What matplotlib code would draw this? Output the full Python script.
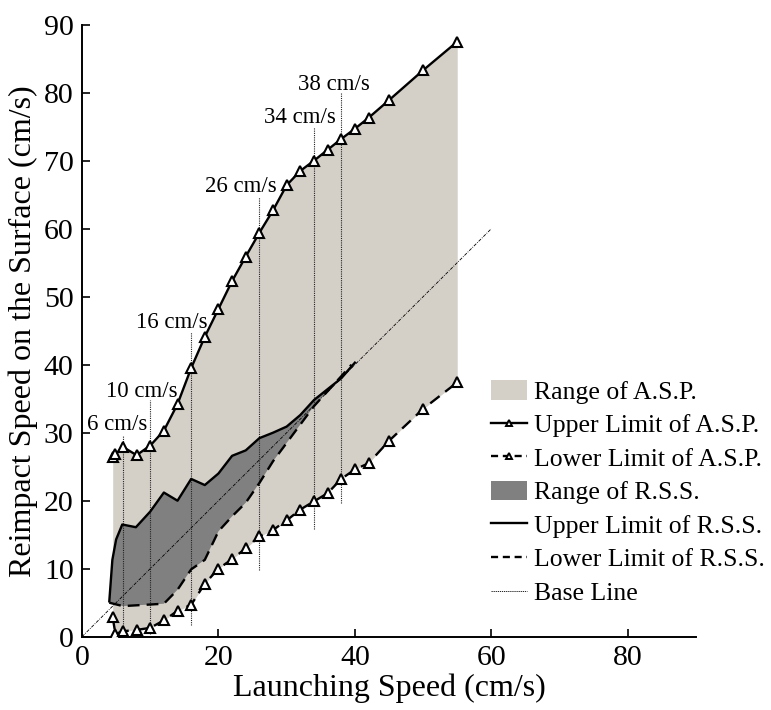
import matplotlib
matplotlib.use("Agg")
import matplotlib.pyplot as plt
from matplotlib.patches import Patch
from matplotlib.lines import Line2D
import numpy as np

plt.rcParams['font.family'] = ['Liberation Serif', 'DejaVu Serif']
plt.rcParams['mathtext.fontset'] = 'stix'

# ---------------- data ----------------
asp_x = [4.5, 4.9, 6, 8, 10, 12, 14, 16, 18, 20, 22, 24, 26, 28, 30, 32, 34, 36, 38, 40, 42, 45, 50, 55]
asp_upper = [26.4, 26.8, 27.9, 26.7, 28.1, 30.3, 34.2, 39.5, 44.1, 48.2, 52.3, 55.9, 59.4, 62.7,
             66.4, 68.5, 70.0, 71.6, 73.2, 74.7, 76.3, 78.9, 83.3, 87.5]
asp_lower = [2.85, 0.4, 0.8, 1.0, 1.3, 2.4, 3.8, 4.7, 7.8, 10.0, 11.4, 13.0, 14.75, 15.7,
             17.1, 18.7, 19.9, 21.1, 23.2, 24.6, 25.5, 28.8, 33.5, 37.4]

rss_up_x = [4.0, 4.45, 5.0, 5.9, 7.9, 10, 12, 14, 16, 18, 20, 22, 24, 26, 28, 30, 32, 34, 36, 38, 40]
rss_upper = [5.2, 11.3, 14.3, 16.5, 16.1, 18.4, 21.2, 20.0, 23.2, 22.3, 24.0, 26.6, 27.4, 29.2,
             30.0, 30.9, 32.6, 34.8, 36.4, 38.0, 40.3]
rss_lo_x = [4.0, 6, 12, 14, 16, 18, 20, 22, 24, 26, 28, 30, 32, 34, 36, 38, 39.5]
rss_lower = [5.0, 4.5, 4.85, 6.9, 9.9, 11.3, 15.5, 17.7, 19.7, 22.6, 25.8, 28.5, 31.2, 33.9,
             36.1, 38.3, 40.0]

base_x = [0, 60]
base_y = [0, 60]

mark_x = [6, 10, 16, 26, 34, 38]
mark_top = [29.6, 34.8, 44.8, 64.7, 75.0, 80.0]
mark_bottom = [0.3, 0.4, 1.7, 9.8, 15.8, 19.7]
mark_labels = ['6 cm/s', '10 cm/s', '16 cm/s', '26 cm/s', '34 cm/s', '38 cm/s']
label_x = [5.1, 8.7, 13.1, 23.3, 32.0, 37.0]
label_y = [30.4, 35.3, 45.4, 65.4, 75.5, 80.4]

x_ticks = [0, 20, 40, 60, 80]
y_ticks = [0, 10, 20, 30, 40, 50, 60, 70, 80, 90]

light = '#d4d0c8'
dark = '#808080'

# ---------------- figure ----------------
fig = plt.figure(figsize=(7.71, 7.10), dpi=100)
ax = fig.add_axes([82/771, 1 - 636.7/710, (696-82)/771, (636.7-24.7)/710])

ax.fill_between(asp_x, asp_lower, asp_upper, color=light, lw=0, zorder=1)
poly_x = list(rss_up_x) + list(rss_lo_x[::-1])
poly_y = list(rss_upper) + list(rss_lower[::-1])
ax.fill(poly_x, poly_y, color=dark, lw=0, zorder=2)

for vx, vt, vb in zip(mark_x, mark_top, mark_bottom):
    ax.plot([vx, vx], [vb, vt], color='#222222', lw=0.8, ls=(0, (1, 1)), zorder=3)
for lx, ly, lab in zip(label_x, label_y, mark_labels):
    ax.text(lx, ly, lab, ha='center', va='baseline', fontsize=16.5, zorder=6)

base_ls = (0, (4, 1.5, 1, 1.5))
base, = ax.plot(base_x, base_y, color='black', lw=0.6, ls=base_ls, zorder=4)

up_asp, = ax.plot(asp_x, asp_upper, color='black', lw=1.7, marker='^', ms=6.5,
                  mfc='white', mec='black', mew=1.5, zorder=5)
lo_asp, = ax.plot(asp_x, asp_lower, color='black', lw=1.7, ls=(0, (5, 3)), marker='^', ms=6.5,
                  mfc='white', mec='black', mew=1.5, zorder=5)
up_rss, = ax.plot(rss_up_x, rss_upper, color='black', lw=1.7, zorder=5)
lo_rss, = ax.plot(rss_lo_x, rss_lower, color='black', lw=1.7, ls=(0, (5, 3)), zorder=5)

ax.set_xlim(0, 90)
ax.set_ylim(0, 90)
ax.set_xticks(x_ticks)
ax.set_yticks(y_ticks)
ax.spines['top'].set_visible(False)
ax.spines['right'].set_visible(False)
for s in ['left', 'bottom']:
    ax.spines[s].set_linewidth(1.4)
ax.tick_params(direction='in', length=6, width=1.2, labelsize=21.5, pad=6)
ax.set_xlabel('Launching Speed (cm/s)', fontsize=23, labelpad=2)
ax.set_ylabel('Reimpact Speed on the Surface (cm/s)', fontsize=23, labelpad=4)

# legend
h_range_asp = Patch(facecolor=light, edgecolor='none')
h_range_rss = Patch(facecolor=dark, edgecolor='none')
h_up_asp = Line2D([], [], color='black', lw=1.7, marker='^', ms=5, mfc='white', mec='black', mew=1.4)
h_lo_asp = Line2D([], [], color='black', lw=1.7, ls=(0, (3, 2)), marker='^', ms=5, mfc='white', mec='black', mew=1.4)
h_up_rss = Line2D([], [], color='black', lw=1.7)
h_lo_rss = Line2D([], [], color='black', lw=1.7, ls=(0, (3, 2)))
h_base = Line2D([], [], color='black', lw=0.6, ls=(0, (1.5, 1)))

handles = [h_range_asp, h_up_asp, h_lo_asp, h_range_rss, h_up_rss, h_lo_rss, h_base]
labels = ['Range of A.S.P.', 'Upper Limit of A.S.P.', 'Lower Limit of A.S.P.', 'Range of R.S.S.',
          'Upper Limit of R.S.S.', 'Lower Limit of R.S.S.', 'Base Line']
leg = fig.legend(handles, labels, loc='upper left', bbox_to_anchor=(490.7/771, 1 - 380/710),
                 frameon=False, fontsize=18.5, borderpad=0, borderaxespad=0,
                 handlelength=1.4, handleheight=0.8, handletextpad=0.3, labelspacing=0.38,
                 numpoints=1)

fig.savefig('out.png', dpi=100)
